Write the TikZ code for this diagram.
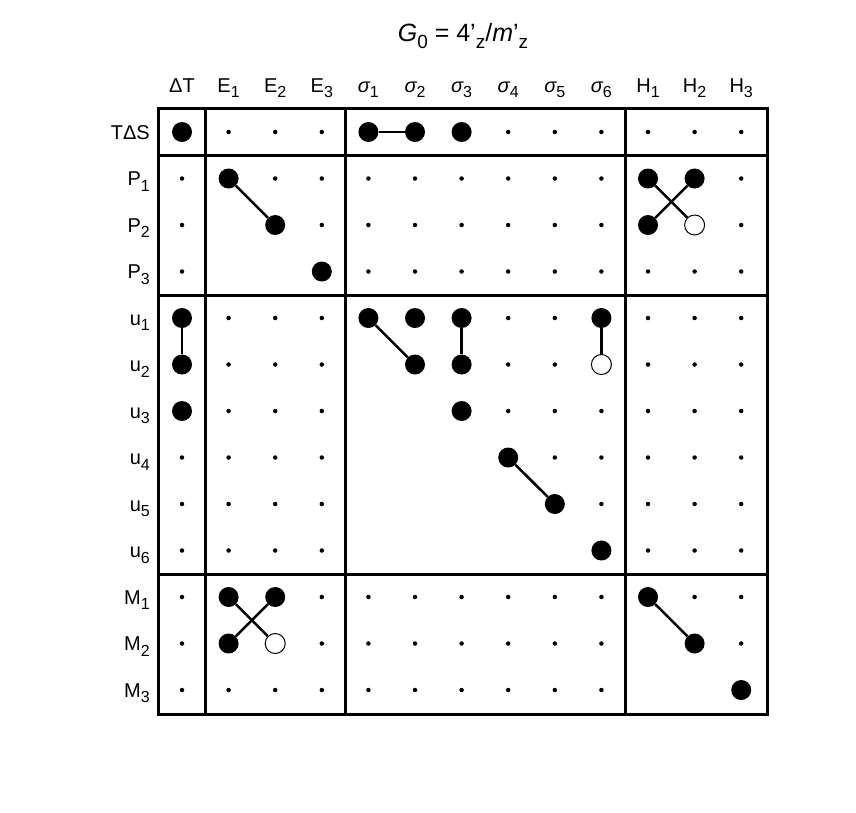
\documentclass[tikz,border=0pt]{standalone}
\usepackage{fontspec}
\setmainfont{Liberation Sans}
\usetikzlibrary{positioning}
\newcommand{\lo}[1]{\raisebox{-0.55ex}{\fontsize{16}{18}\selectfont #1}}

\tikzset{
  big/.style={circle, fill=black, inner sep=0pt, minimum width=18pt, minimum height=20pt},
  hollow/.style={circle, draw=black, fill=white, line width=1pt, inner sep=0pt, minimum width=18pt, minimum height=20pt},
  tiny/.style={circle, fill=black, inner sep=0pt, minimum size=4.5pt},
  link/.style={line width=2.5pt},
  frame/.style={line width=3pt},
  lab/.style={font=\fontsize{20}{24}\selectfont, inner sep=0pt}
}

\begin{document}
\begin{tikzpicture}[x=1pt, y=-1pt]
    \useasboundingbox (0,0) rectangle (856,812);

    % Grid points
    \foreach \r in {0,...,12} {
      \foreach \c in {0,...,12} {
        \coordinate (p-\r-\c) at ({182+46.6*\c},{132+46.5*\r});
      }
    }

    % Small dots
    \foreach \r in {0,...,12} {
      \foreach \c in {0,...,12} {
        \pgfmathtruncatemacro\gr{(\r>0)+(\r>3)+(\r>9)}
        \pgfmathtruncatemacro\gc{(\c>0)+(\c>3)+(\c>9)}
        \ifnum\gr=\gc
          \ifnum\c>\r \node [tiny] at (p-\r-\c) {}; \fi
        \else
          \node [tiny] at (p-\r-\c) {};
        \fi
      }
    }

    % Frame
    \draw [frame] (158,108) rectangle (767,714);
    \draw [frame] (205,108) -- (205,714);
    \draw [frame] (345,108) -- (345,714);
    \draw [frame] (625,108) -- (625,714);
    \draw [frame] (158,155) -- (767,155);
    \draw [frame] (158,295) -- (767,295);
    \draw [frame] (158,574) -- (767,574);

    % Big dots
    \node [big] (ts-dt) at (p-0-0) {};
    \node [big] (ts-s1) at (p-0-4) {};
    \node [big] (ts-s2) at (p-0-5) {};
    \node [big] (ts-s3) at (p-0-6) {};
    \node [big] (p1-e1) at (p-1-1) {};
    \node [big] (p2-e2) at (p-2-2) {};
    \node [big] (p3-e3) at (p-3-3) {};
    \node [big] (p1-h1) at (p-1-10) {};
    \node [big] (p1-h2) at (p-1-11) {};
    \node [big] (p2-h1) at (p-2-10) {};
    \node [hollow] (p2-h2) at (p-2-11) {};
    \node [big] (u1-dt) at (p-4-0) {};
    \node [big] (u2-dt) at (p-5-0) {};
    \node [big] (u3-dt) at (p-6-0) {};
    \node [big] (u1-s1) at (p-4-4) {};
    \node [big] (u1-s2) at (p-4-5) {};
    \node [big] (u2-s2) at (p-5-5) {};
    \node [big] (u1-s3) at (p-4-6) {};
    \node [big] (u2-s3) at (p-5-6) {};
    \node [big] (u3-s3) at (p-6-6) {};
    \node [big] (u4-s4) at (p-7-7) {};
    \node [big] (u5-s5) at (p-8-8) {};
    \node [big] (u1-s6) at (p-4-9) {};
    \node [hollow] (u2-s6) at (p-5-9) {};
    \node [big] (u6-s6) at (p-9-9) {};
    \node [big] (m1-e1) at (p-10-1) {};
    \node [big] (m1-e2) at (p-10-2) {};
    \node [big] (m2-e1) at (p-11-1) {};
    \node [hollow] (m2-e2) at (p-11-2) {};
    \node [big] (m1-h1) at (p-10-10) {};
    \node [big] (m2-h2) at (p-11-11) {};
    \node [big] (m3-h3) at (p-12-12) {};

    % Links
    \draw [link] (ts-s1) -- (ts-s2);
    \draw [link] (p1-e1) -- (p2-e2);
    \draw [link] (p1-h1) -- (p2-h2);
    \draw [link] (p1-h2) -- (p2-h1);
    \draw [link] (u1-dt) -- (u2-dt);
    \draw [link] (u1-s1) -- (u2-s2);
    \draw [link] (u1-s3) -- (u2-s3);
    \draw [link] (u1-s6) -- (u2-s6);
    \draw [link] (u4-s4) -- (u5-s5);
    \draw [link] (m1-e1) -- (m2-e2);
    \draw [link] (m1-e2) -- (m2-e1);
    \draw [link] (m1-h1) -- (m2-h2);

    % Column labels
    \foreach \t [count=\i from 0] in {ΔT, E\lo{1}, E\lo{2}, E\lo{3},
        {\itshape σ}\lo{1}, {\itshape σ}\lo{2}, {\itshape σ}\lo{3},
        {\itshape σ}\lo{4}, {\itshape σ}\lo{5}, {\itshape σ}\lo{6},
        H\lo{1}, H\lo{2}, H\lo{3}}
      \node [lab, anchor=base] (col-\i) at ({182+46.6*\i},92) {\t};

    % Row labels
    \foreach \t [count=\i from 0] in {TΔS, P\lo{1}, P\lo{2}, P\lo{3},
        u\lo{1}, u\lo{2}, u\lo{3}, u\lo{4}, u\lo{5}, u\lo{6},
        M\lo{1}, M\lo{2}, M\lo{3}}
      \node [lab, anchor=base east] (row-\i) at ({150},{139+46.5*\i}) {\t};

    % Title
    \node [font=\fontsize{25}{30}\selectfont, inner sep=0pt] (title) at (463,36)
      {\textit{G}\lo{\fontsize{19}{22}\selectfont 0} = 4'\lo{\fontsize{19}{22}\selectfont z}/\textit{m}'\lo{\fontsize{19}{22}\selectfont z}};
\end{tikzpicture}
\end{document}
